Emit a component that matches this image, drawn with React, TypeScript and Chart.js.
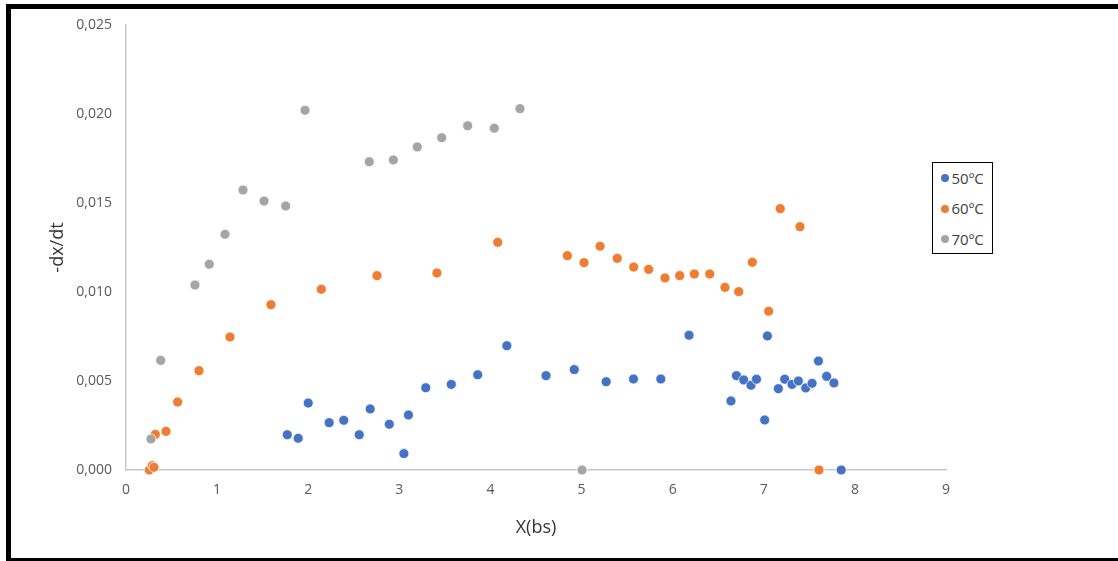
import React, { useEffect, useRef } from "react";
import { Chart, registerables } from "chart.js";

Chart.register(...registerables);

const seriesNames = ["50ºC", "60ºC", "70ºC"];
const seriesColors = ["#4472C4", "#ED7D31", "#A5A5A5"];

const x50 = [1.77, 1.89, 2.0, 2.23, 2.39, 2.56, 2.68, 2.89, 3.05, 3.1, 3.29, 3.57, 3.86, 4.18, 4.61, 4.92, 5.27, 5.57, 5.87, 6.18, 6.64, 6.7, 6.78, 6.86, 6.92, 7.01, 7.04, 7.16, 7.23, 7.31, 7.38, 7.46, 7.53, 7.6, 7.69, 7.77, 7.85];
const y50 = [0.00198, 0.00178, 0.00376, 0.00266, 0.00279, 0.00198, 0.00343, 0.00257, 0.00092, 0.00309, 0.00462, 0.00481, 0.00535, 0.00698, 0.0053, 0.00564, 0.00496, 0.00511, 0.00511, 0.00757, 0.00388, 0.0053, 0.00506, 0.00476, 0.0051, 0.00281, 0.00753, 0.00457, 0.0051, 0.00481, 0.005, 0.00461, 0.00487, 0.00612, 0.00526, 0.00489, 0];

const x60 = [0.256, 0.289, 0.307, 0.322, 0.439, 0.567, 0.801, 1.141, 1.591, 2.144, 2.755, 3.413, 4.08, 4.844, 5.027, 5.203, 5.392, 5.572, 5.737, 5.916, 6.077, 6.238, 6.407, 6.574, 6.725, 6.874, 7.054, 7.181, 7.397, 7.606];
const y60 = [0, 0.00024, 0.00015, 0.002, 0.00217, 0.00382, 0.00558, 0.00747, 0.00929, 0.01015, 0.01092, 0.01107, 0.01279, 0.01204, 0.01165, 0.01257, 0.01189, 0.0114, 0.01127, 0.01079, 0.01092, 0.01101, 0.01101, 0.01026, 0.01002, 0.01167, 0.00892, 0.01468, 0.01367, 0];

const x70 = [0.274, 0.381, 0.757, 0.914, 1.087, 1.284, 1.515, 1.753, 1.965, 2.67, 2.934, 3.197, 3.465, 3.75, 4.042, 4.324, 5.005];
const y70 = [0.00174, 0.00616, 0.01039, 0.01156, 0.01324, 0.01573, 0.01511, 0.01483, 0.02021, 0.01732, 0.01742, 0.01815, 0.01867, 0.01934, 0.0192, 0.0203, 0];

const xTitle = "X(bs)";
const yTitle = "-dx/dt";

const toPoints = (xs: number[], ys: number[]) => xs.map((x, i) => ({ x, y: ys[i] }));

export default function App() {
  const canvasRef = useRef<HTMLCanvasElement | null>(null);

  useEffect(() => {
    document.body.style.overflow = "hidden";
    const ctx = canvasRef.current;
    if (!ctx) return;
    const allX = [x50, x60, x70];
    const allY = [y50, y60, y70];
    const chart = new Chart(ctx, {
      type: "scatter",
      data: {
        datasets: seriesNames.map((name, i) => ({
          label: name,
          data: toPoints(allX[i], allY[i]),
          backgroundColor: seriesColors[i],
          borderColor: "#ffffff",
          borderWidth: 0.75,
          pointRadius: 5,
          pointHoverRadius: 5,
          order: 2 - i,
          clip: false as any,
        })),
      },
      options: {
        animation: false,
        responsive: false,
        maintainAspectRatio: false,
        layout: { padding: { left: 0, top: 25, right: 172, bottom: 0 } },
        plugins: { legend: { display: false }, tooltip: { enabled: false } },
        scales: {
          x: {
            type: "linear",
            min: 0,
            max: 9,
            grid: { display: false, drawTicks: false },
            border: { display: true, color: "#c8c8c8", width: 1.5 },
            ticks: {
              stepSize: 1,
              padding: 12,
              color: "#595959",
              font: { family: "'Open Sans'", size: 14 },
            },
            title: {
              display: true,
              text: xTitle,
              color: "#333333",
              font: { family: "'Open Sans'", size: 18 },
              padding: { top: 0, bottom: 22 },
            },
            afterFit: (axis: any) => {
              axis.height = 91;
            },
          },
          y: {
            type: "linear",
            min: 0,
            max: 0.025,
            grid: { display: false, drawTicks: false },
            border: { display: true, color: "#c8c8c8", width: 1.5 },
            ticks: {
              stepSize: 0.005,
              padding: 14,
              color: "#595959",
              font: { family: "'Open Sans'", size: 14 },
              callback: (v: any) => Number(v).toFixed(3).replace(".", ","),
            },
            title: {
              display: true,
              text: yTitle,
              color: "#333333",
              font: { family: "'Open Sans'", size: 18 },
              padding: { top: 47, bottom: 0 },
            },
            afterFit: (axis: any) => {
              axis.width = 126;
            },
          },
        },
      },
    });
    return () => chart.destroy();
  }, []);

  return (
    <div style={{ position: "absolute", left: 0, top: 0, width: 1118, height: 561, overflow: "hidden", background: "#ffffff" }}>
      <canvas ref={canvasRef} width={1118} height={561} style={{ position: "absolute", left: 0, top: 0, width: 1118, height: 561 }} />
      <div
        style={{
          position: "absolute",
          left: 6,
          top: 4,
          width: 1112,
          height: 557,
          boxSizing: "border-box",
          borderLeft: "5px solid #000",
          borderTop: "5px solid #000",
          borderBottom: "3px solid #000",
          pointerEvents: "none",
        }}
      />
      <div
        style={{
          position: "absolute",
          left: 932,
          top: 162,
          width: 61,
          height: 92,
          boxSizing: "border-box",
          border: "1.5px solid #000",
          background: "#fff",
          fontFamily: "'Open Sans', sans-serif",
          fontSize: 15,
          color: "#404040",
        }}
      >
        {seriesNames.map((name, i) => (
          <div key={name} style={{ position: "absolute", left: 0, top: 15 + i * 30.5 - 10.5, height: 21, display: "flex", alignItems: "center" }}>
            <span
              style={{
                display: "inline-block",
                width: 8,
                height: 8,
                borderRadius: "50%",
                background: seriesColors[i],
                marginLeft: 7.5,
                marginRight: 3,
              }}
            />
            <span style={{ lineHeight: "21px" }}>{name}</span>
          </div>
        ))}
      </div>
    </div>
  );
}
